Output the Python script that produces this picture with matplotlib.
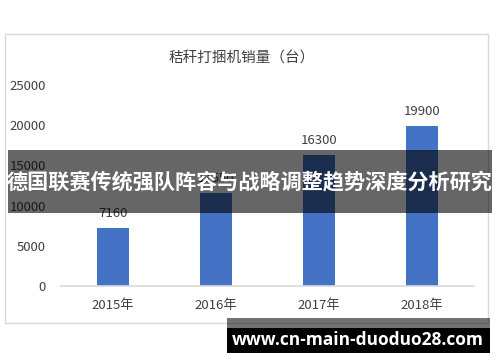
import matplotlib.pyplot as plt
from matplotlib.patches import Rectangle

plt.rcParams['font.family'] = ['Noto Sans CJK SC', 'DejaVu Sans']

years = ['2015年', '2016年', '2017年', '2018年']
sales = [7160, 11550, 16300, 19900]
yticks = [0, 5000, 10000, 15000, 20000, 25000]
title = '秸秆打捆机销量（台）'
banner = '德国联赛传统强队阵容与战略调整趋势深度分析研究'
site = 'www.cn-main-duoduo28.com'

W, H = 500, 362
fig = plt.figure(figsize=(5, 3.62), dpi=100)

def px(x0, y0, x1, y1):
    # pixel box (top-left origin) -> figure fraction rect
    return (x0 / W, 1 - y1 / H), (x1 - x0) / W, (y1 - y0) / H

# chart frame
xy, w, h = px(5, 34, 488, 323)
fig.patches.append(Rectangle(xy, w, h, transform=fig.transFigure,
                             fill=False, edgecolor='#d9d9d9', lw=1))

ax = fig.add_axes([61 / W, 1 - 286 / H, (473.5 - 61) / W, (286 - 85) / H])
x = range(len(years))
bars = ax.bar(x, sales, width=0.31, color='#4472c4')
for b, v in zip(bars, sales):
    ax.annotate(str(v), (b.get_x() + b.get_width() / 2, v), xytext=(0, 6),
                textcoords='offset points', ha='center', va='bottom',
                fontsize=9.5, color='#404040')

ax.set_xlim(-0.5, 3.5)
ax.set_ylim(0, 25000)
ax.set_xticks(list(x))
ax.set_xticklabels(years, fontsize=9.5, color='#404040')
ax.set_yticks(yticks)
ax.set_yticklabels([str(t) for t in yticks], fontsize=9.5, color='#404040')
ax.tick_params(length=0)
ax.tick_params(axis='x', pad=9)
ax.tick_params(axis='y', pad=11)
for s in ['top', 'right', 'left']:
    ax.spines[s].set_visible(False)
ax.spines['bottom'].set_color('#d9d9d9')
ax.spines['bottom'].set_linewidth(1.2)

fig.text(242 / W, 1 - 59 / H, title, ha='center', va='center',
         fontsize=10.5, color='#404040')

# overlay banner
xy, w, h = px(8, 150, 492, 213)
fig.patches.append(Rectangle(xy, w, h, transform=fig.transFigure,
                             color='black', alpha=0.6, lw=0, zorder=5))
fig.text(250 / W, 1 - 183 / H, banner, ha='center', va='center',
         fontsize=15.2, color='white', fontweight='bold', zorder=6)

# watermark
xy, w, h = px(227, 318, 490, 328)
fig.patches.append(Rectangle(xy, w, h, transform=fig.transFigure,
                             color='black', alpha=0.55, lw=0, zorder=5))
xy, w, h = px(227, 328, 490, 353)
fig.patches.append(Rectangle(xy, w, h, transform=fig.transFigure,
                             color='black', lw=0, zorder=5))
fig.text(358 / W, 1 - 340 / H, site, ha='center', va='center',
         fontsize=12.5, color='white', fontweight='bold', zorder=6,
         family=['Open Sans', 'DejaVu Sans'])

fig.savefig('out.png', dpi=100)
